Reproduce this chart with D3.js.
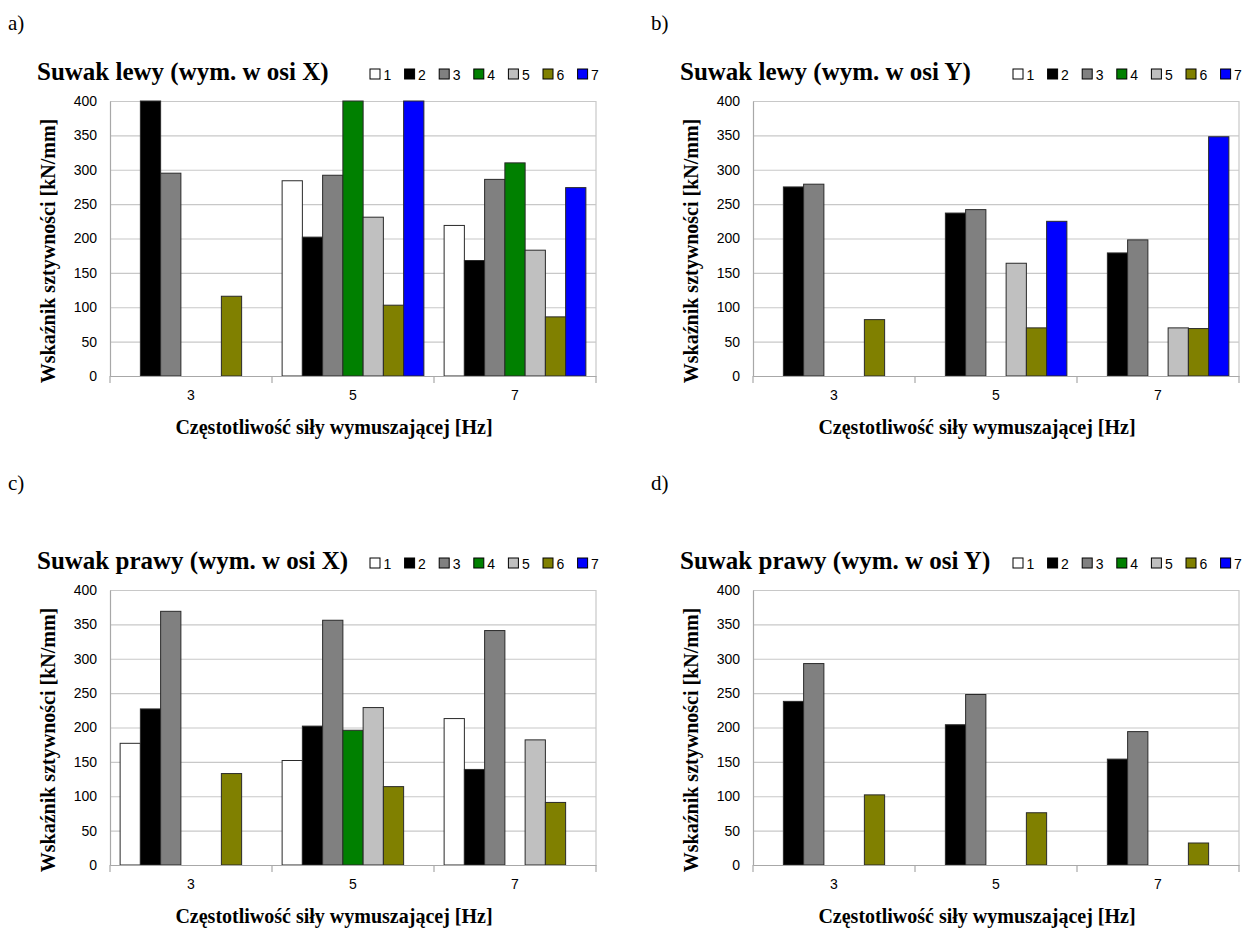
<!DOCTYPE html>
<html>
<head>
<meta charset="utf-8">
<script src="https://cdn.jsdelivr.net/npm/d3@7"></script>
<style>
  html, body { margin: 0; padding: 0; background: #fff; }
  svg { display: block; }
  .tick text { font-family: "Liberation Sans", Arial, sans-serif; }
</style>
</head>
<body>
<svg id="fig" width="1252" height="929"></svg>
<script>
// Excitation frequencies [Hz] and measurement series
const categories = ["3", "5", "7"];
const seriesNames = ["1", "2", "3", "4", "5", "6", "7"];
const seriesColors = ["#ffffff", "#000000", "#808080", "#008000", "#c0c0c0", "#808000", "#0000ff"];
const yTicks = [0, 50, 100, 150, 200, 250, 300, 350, 400];

// Stiffness index [kN/mm]; one row per frequency, one column per series (null = no bar)
const lewyX = [
  [null, 400, 295, null, null, 116, null],
  [284, 202, 292, 400, 231, 103, 400],
  [219, 168, 286, 310, 183, 86, 274]
];
const lewyY = [
  [null, 275, 279, null, null, 82, null],
  [null, 237, 242, null, 164, 70, 225],
  [null, 179, 198, null, 70, 69, 348]
];
const prawyX = [
  [177, 227, 369, null, null, 133, null],
  [152, 202, 356, 196, 229, 114, null],
  [213, 139, 341, null, 182, 91, null]
];
const prawyY = [
  [null, 238, 293, null, null, 102, null],
  [null, 204, 248, null, null, 76, null],
  [null, 154, 194, null, null, 32, null]
];

const panels = [
  { tag: "a)", title: "Suwak lewy (wym. w osi X)", values: lewyX, dx: 0, dy: 0 },
  { tag: "b)", title: "Suwak lewy (wym. w osi Y)", values: lewyY, dx: 643, dy: 0 },
  { tag: "c)", title: "Suwak prawy (wym. w osi X)", values: prawyX, dx: 0, dy: 489 },
  { tag: "d)", title: "Suwak prawy (wym. w osi Y)", values: prawyY, dx: 643, dy: 489 }
];

const svg = d3.select("#fig");
const serif = "'Liberation Serif', 'Times New Roman', serif";
const sans = "'Liberation Sans', Arial, sans-serif";

// plot area inside each panel
const plot = { left: 110, right: 596, top: 101, bottom: 376 };

const x0 = d3.scaleBand().domain(categories).range([plot.left, plot.right]).paddingInner(0).paddingOuter(0);
const step = x0.bandwidth();
const x1 = d3.scaleBand().domain(seriesNames).range([step / 16, step * 15 / 16]).padding(0);
const y = d3.scaleLinear().domain([0, 400]).range([plot.bottom, plot.top]);
const color = d3.scaleOrdinal().domain(seriesNames).range(seriesColors);

panels.forEach((p, pi) => {
  // panel letter
  svg.append("text")
    .attr("x", 8 + p.dx).attr("y", 30 + (p.dy ? 460 : 0))
    .attr("font-family", serif).attr("font-size", 21)
    .text(p.tag);

  const g = svg.append("g").attr("transform", `translate(${p.dx},${p.dy})`);

  // chart title
  g.append("text")
    .attr("x", 37).attr("y", 80)
    .attr("font-family", serif).attr("font-weight", "bold").attr("font-size", 25)
    .text(p.title);

  // legend
  const leg = g.append("g").attr("class", "legend");
  seriesNames.forEach((s, i) => {
    const lx = 370 + i * 34.6;
    leg.append("rect")
      .attr("x", lx).attr("y", 69).attr("width", 10).attr("height", 10)
      .attr("fill", color(s)).attr("stroke", "#000").attr("stroke-width", 1);
    leg.append("text")
      .attr("x", lx + 13.5).attr("y", 80)
      .attr("font-family", sans).attr("font-size", 14)
      .text(s);
  });

  // horizontal gridlines
  g.append("g")
    .attr("transform", `translate(${plot.left},0)`)
    .call(d3.axisLeft(y).tickValues(yTicks).tickSize(-(plot.right - plot.left)).tickFormat(""))
    .call(a => a.select(".domain").remove())
    .call(a => a.selectAll("line").attr("stroke", "#c8c8c8").attr("stroke-width", 1.2));

  // right border of plot area
  g.append("line")
    .attr("x1", plot.right).attr("x2", plot.right)
    .attr("y1", plot.top).attr("y2", plot.bottom)
    .attr("stroke", "#c8c8c8").attr("stroke-width", 1.2);

  // y axis with labels
  g.append("g")
    .attr("transform", `translate(${plot.left},0)`)
    .call(d3.axisLeft(y).tickValues(yTicks).tickSize(0).tickPadding(13))
    .call(a => a.select(".domain").attr("stroke", "#a8a8a8").attr("stroke-width", 1.2))
    .call(a => a.selectAll("text").attr("font-size", 14).attr("fill", "#000"));

  // bars
  p.values.forEach((row, ci) => {
    const cg = g.append("g").attr("transform", `translate(${x0(categories[ci])},0)`);
    row.forEach((v, si) => {
      if (v === null) return;
      cg.append("rect")
        .attr("x", x1(seriesNames[si]))
        .attr("y", y(v))
        .attr("width", x1.bandwidth())
        .attr("height", y(0) - y(v))
        .attr("fill", color(seriesNames[si]))
        .attr("stroke", "#2a2a2a").attr("stroke-width", 1);
    });
  });

  // x axis: category labels and boundary ticks
  const xa = g.append("g")
    .attr("transform", `translate(0,${plot.bottom})`)
    .call(d3.axisBottom(x0).tickSize(0).tickPadding(14))
    .call(a => a.select(".domain").attr("stroke", "#a8a8a8").attr("stroke-width", 1.2))
    .call(a => a.selectAll("text").attr("font-size", 14).attr("fill", "#000"));
  const bounds = categories.map(c => x0(c)).concat([x0(categories[categories.length - 1]) + step]);
  xa.selectAll("line.sep").data(bounds).join("line")
    .attr("class", "sep")
    .attr("x1", d => d).attr("x2", d => d)
    .attr("y1", 0).attr("y2", 7)
    .attr("stroke", "#a8a8a8").attr("stroke-width", 1.2);

  // axis titles
  g.append("text")
    .attr("x", 334).attr("y", 434)
    .attr("text-anchor", "middle")
    .attr("font-family", serif).attr("font-weight", "bold").attr("font-size", 20)
    .text("Częstotliwość siły wymuszającej [Hz]");

  g.append("text")
    .attr("transform", "translate(55,251) rotate(-90)")
    .attr("text-anchor", "middle")
    .attr("font-family", serif).attr("font-weight", "bold").attr("font-size", 20)
    .text("Wskaźnik sztywności [kN/mm]");
});
</script>
</body>
</html>
